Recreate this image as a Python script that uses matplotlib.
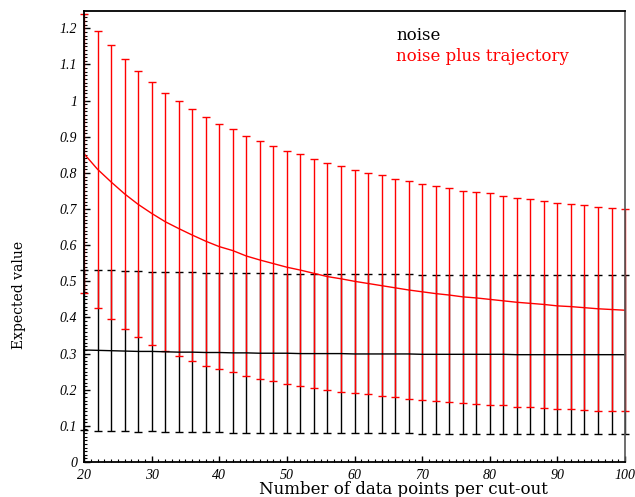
import numpy as np
import matplotlib
matplotlib.use("Agg")
import matplotlib.pyplot as plt
from matplotlib.ticker import MultipleLocator, FixedLocator, FuncFormatter

# Cut-out lengths (number of data points)
n_points = list(range(20, 101, 2))

# Pure noise: expected value and its spread
noise_mean = [0.310, 0.309, 0.308, 0.307, 0.306, 0.306, 0.305, 0.304, 0.304, 0.303,
              0.303, 0.302, 0.302, 0.301, 0.301, 0.301, 0.300, 0.300, 0.300, 0.300,
              0.299, 0.299, 0.299, 0.299, 0.299, 0.298, 0.298, 0.298, 0.298, 0.298,
              0.298, 0.298, 0.297, 0.297, 0.297, 0.297, 0.297, 0.297, 0.297, 0.297,
              0.297]
noise_err = [0.222, 0.222, 0.222, 0.222, 0.222, 0.221, 0.221, 0.221, 0.221, 0.221,
             0.221, 0.221, 0.221, 0.221, 0.221, 0.220, 0.220, 0.220, 0.220, 0.220,
             0.220, 0.220, 0.220, 0.220, 0.220, 0.220, 0.220, 0.220, 0.220, 0.220,
             0.220, 0.220, 0.220, 0.220, 0.220, 0.220, 0.220, 0.220, 0.220, 0.220,
             0.220]

# Noise plus trajectory: expected value and its spread
traj_mean = [0.853, 0.810, 0.775, 0.742, 0.713, 0.688, 0.665, 0.646, 0.628, 0.611,
             0.596, 0.585, 0.570, 0.559, 0.549, 0.539, 0.531, 0.522, 0.513, 0.507,
             0.500, 0.494, 0.488, 0.482, 0.476, 0.471, 0.466, 0.462, 0.457, 0.454,
             0.450, 0.446, 0.442, 0.439, 0.436, 0.432, 0.430, 0.427, 0.424, 0.422,
             0.420]
traj_err = [0.386, 0.383, 0.379, 0.374, 0.368, 0.363, 0.357, 0.353, 0.348, 0.344,
            0.339, 0.337, 0.332, 0.328, 0.326, 0.322, 0.320, 0.316, 0.313, 0.312,
            0.309, 0.307, 0.305, 0.302, 0.301, 0.299, 0.297, 0.296, 0.294, 0.294,
            0.293, 0.289, 0.289, 0.288, 0.287, 0.285, 0.284, 0.283, 0.282, 0.281,
            0.279]

x_ticks = [20, 30, 40, 50, 60, 70, 80, 90, 100]
y_ticks = [0.0, 0.1, 0.2, 0.3, 0.4, 0.5, 0.6, 0.7, 0.8, 0.9, 1.0, 1.1, 1.2]

label_font = "DejaVu Serif"
tick_font = "Liberation Serif"

fig = plt.figure(figsize=(6.35, 4.97), dpi=100)
ax = fig.add_axes([0.1323, 0.0704, 0.852, 0.9075])

eb_kw = dict(capsize=2.6, elinewidth=1.0, capthick=1.0, linewidth=1.0, clip_on=False)
ax.errorbar(n_points, noise_mean, yerr=noise_err, color="black", **eb_kw)
ax.errorbar(n_points, traj_mean, yerr=traj_err, color="#ff0000", **eb_kw)

ax.set_xlim(20, 100)
ax.set_ylim(0, 1.248)

ax.xaxis.set_major_locator(FixedLocator(x_ticks))
ax.yaxis.set_major_locator(FixedLocator(y_ticks))
ax.xaxis.set_minor_locator(MultipleLocator(1))
ax.yaxis.set_minor_locator(MultipleLocator(0.01))
ax.yaxis.set_major_formatter(FuncFormatter(lambda v, p: f"{v:g}"))

ax.tick_params(which="both", direction="in", top=False, right=False, colors="black")
ax.tick_params(which="major", length=4, width=1.0, pad=5)
ax.tick_params(which="minor", length=2, width=0.8)
for lab in ax.get_xticklabels() + ax.get_yticklabels():
    lab.set_fontfamily(tick_font)
    lab.set_fontstyle("italic")
    lab.set_fontsize(10)

for side in ["left", "bottom", "top"]:
    ax.spines[side].set_linewidth(1.3)
ax.spines["right"].set_linewidth(1.2)
ax.spines["right"].set_color("#555555")

ax.set_xlabel("Number of data points per cut-out", fontfamily=label_font, fontsize=12)
ax.set_ylabel("Expected value", fontfamily=label_font, fontsize=10)
ax.xaxis.set_label_coords(0.59, -0.042)
ax.yaxis.set_label_coords(-0.108, 0.37)

ax.text(0.577, 0.945, "noise", transform=ax.transAxes, color="black",
        fontfamily=label_font, fontsize=12, va="center", ha="left")
ax.text(0.577, 0.900, "noise plus trajectory", transform=ax.transAxes, color="#ff0000",
        fontfamily=label_font, fontsize=12, va="center", ha="left")

fig.savefig("out.png", dpi=100)
